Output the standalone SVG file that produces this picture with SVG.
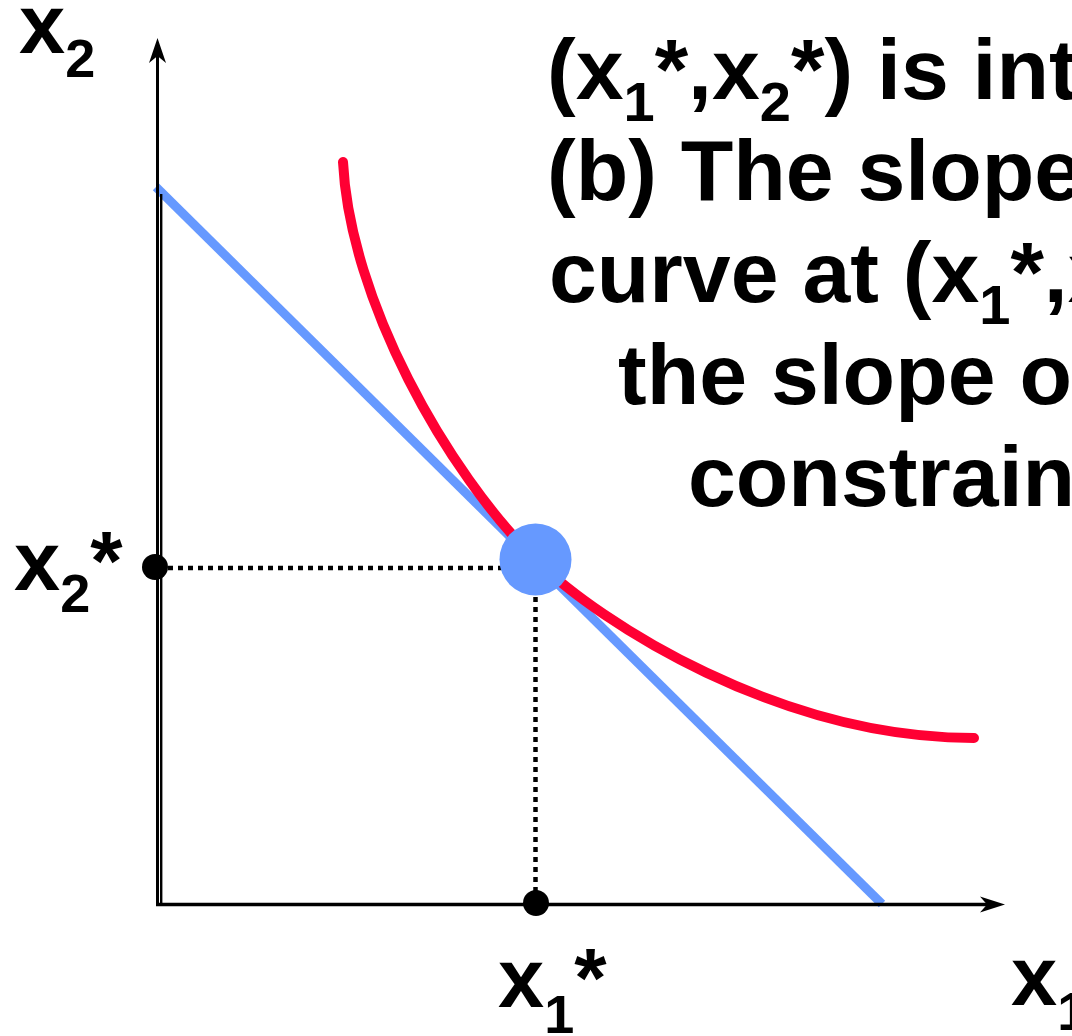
<svg xmlns="http://www.w3.org/2000/svg" width="1072" height="1036" viewBox="0 0 1072 1036">
<style>
.t{font-family:"Liberation Sans",Arial,sans-serif;font-weight:bold;fill:#000}
.body{font-size:86px}
.lab{font-size:83px}
.axis{stroke:#000;fill:none}
.dot{stroke:#000;stroke-width:4.5;stroke-dasharray:5 5;fill:none}
</style>
<rect width="1072" height="1036" fill="#fff"/>
<g id="budget-line">
<line x1="156" y1="187" x2="882" y2="904" stroke="#6699FF" stroke-width="9"/>
</g>
<g id="connectors">
<line class="axis" x1="157.5" y1="906" x2="157.5" y2="52" stroke-width="3"/>
<line class="axis" x1="161.2" y1="194" x2="161.2" y2="906" stroke-width="2.4"/>
<line class="axis" x1="156" y1="904.5" x2="990" y2="904.5" stroke-width="3.3"/>
<path d="M157.5,38 L149,63 L157.5,56 L166,63 Z" fill="#000"/>
<path d="M1005,904.5 L980,896.5 L987,904.5 L980,912.5 Z" fill="#000"/>
<line class="dot" x1="168" y1="568" x2="502" y2="568"/>
<line class="dot" x1="535.5" y1="597" x2="535.5" y2="893"/>
</g>
<g id="indifference-curve">
<path d="M343,162 C350,300 446,471 536,560 C600,623 780,738 974,738" stroke="#FF0033" stroke-width="10" fill="none" stroke-linecap="round"/>
</g>
<g id="optimum">
<circle cx="535.5" cy="559.5" r="36" fill="#6699FF"/>
</g>
<g id="x2-star-dot"><circle cx="155" cy="567" r="13" fill="#000"/></g>
<g id="x1-star-dot"><circle cx="536" cy="903" r="13" fill="#000"/></g>
<g id="labels">
<text class="t lab" x="19" y="53">x<tspan font-size="54" dy="24">2</tspan></text>
<text class="t lab" x="14" y="590">x<tspan font-size="54" dy="22">2</tspan><tspan dy="-22">*</tspan></text>
<text class="t lab" x="498" y="1007">x<tspan font-size="54" dy="26">1</tspan><tspan dy="-26">*</tspan></text>
<text class="t lab" x="1011" y="1005">x<tspan font-size="54" dy="25">1</tspan></text>
</g>
<g id="caption">
<text class="t body" x="547" y="99">(x<tspan font-size="56" dy="22">1</tspan><tspan dy="-22">*,x</tspan><tspan font-size="56" dy="22">2</tspan><tspan dy="-22">*) is int</tspan></text>
<text class="t body" x="547" y="200">(b) The slope</text>
<text class="t body" x="549" y="302">curve at (x<tspan font-size="56" dy="22">1</tspan><tspan dy="-22">*,x</tspan></text>
<text class="t body" x="618" y="404">the slope of</text>
<text class="t body" x="688" y="506">constrain</text>
</g>
</svg>
